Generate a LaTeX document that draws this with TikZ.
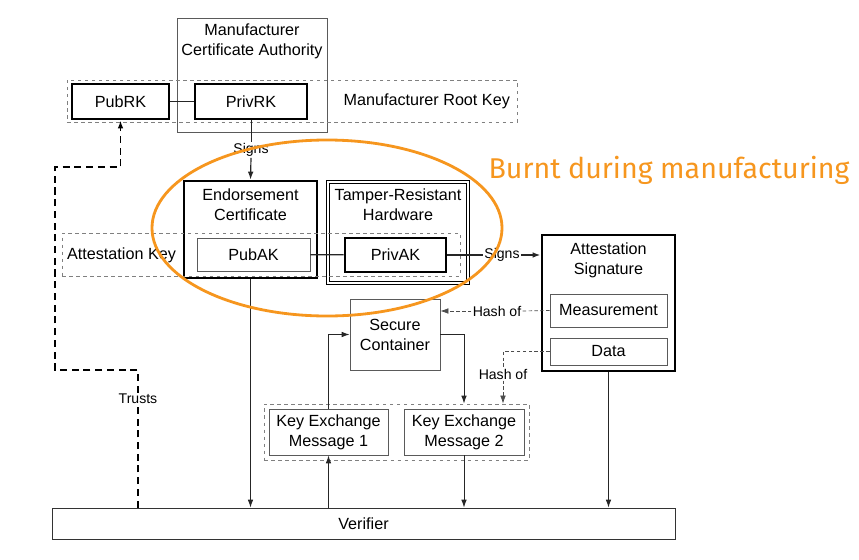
\documentclass[tikz,border=0pt]{standalone}
\usepackage{fontspec}
\setmainfont{Liberation Sans}
\newfontfamily\burntfont{Fira Sans}
\usetikzlibrary{arrows.meta,shapes.geometric}
\definecolor{burntorange}{RGB}{246,150,30}
\definecolor{boxgray}{RGB}{90,90,90}
\begin{document}
\begin{tikzpicture}[x=0.03cm, y=-0.03cm,
	font=\fontsize{13.8}{17}\selectfont,
	thinbox/.style={draw=boxgray, line width=0.7pt, inner sep=0pt, align=center},
	thickbox/.style={draw=black, line width=2.4pt, inner sep=0pt, align=center},
	groupbox/.style={draw=gray, dashed, line width=0.7pt, inner sep=0pt},
	conn/.style={draw=black!85, line width=0.8pt},
	hashline/.style={draw=black!70, line width=0.6pt, dash pattern=on 3pt off 2pt},
	trustline/.style={draw=black, line width=1.5pt, dash pattern=on 6pt off 4pt},
	tip/.style={-{Latex[length=2.4mm,width=1.7mm]}},
	lbl/.style={inner sep=1pt, font=\fontsize{12}{14}\selectfont}]
	%% Rahmen
	\useasboundingbox (0,0) rectangle (859,560);

	%% Manufacturer
	\node[thinbox, minimum width=4.5cm, minimum height=3.42cm] (mca) at (252,75) {};
	\node[anchor=north, align=center] (mcatext) at ([yshift=-2pt]mca.north) {Manufacturer\\Certificate Authority};
	\node[groupbox, minimum width=13.5cm, minimum height=1.26cm] (mrk) at (292,101) {};
	\node[anchor=east] (mrktext) at (514,101) {Manufacturer Root Key};
	\node[thickbox, fill=white, minimum width=2.91cm, minimum height=1.05cm] (pubrk) at (120.5,101.5) {PubRK};
	\node[thickbox, fill=white, minimum width=3.36cm, minimum height=1.05cm] (privrk) at (251,101.5) {PrivRK};

	%% Attestation Key
	\node[thickbox, minimum width=3.99cm, minimum height=2.91cm] (endorse) at (250.5,229.5) {};
	\node[anchor=north, align=center] (endorsetext) at ([yshift=-4pt]endorse.north) {Endorsement\\Certificate};
	\node[thinbox, draw=black, double, double distance=1.2pt, minimum width=4.2cm, minimum height=3.03cm] (trh) at (398,232.5) {};
	\node[anchor=north, align=center] (trhtext) at ([yshift=-3pt]trh.north) {Tamper-Resistant\\Hardware};
	\node[groupbox, minimum width=11.94cm, minimum height=1.29cm] (ak) at (261,254.5) {};
	\node[anchor=west] (aktext) at (63,255) {Attestation Key};
	\node[thinbox, minimum width=3.39cm, minimum height=0.99cm] (pubak) at (253.5,254.5) {PubAK};
	\node[thickbox, minimum width=3.03cm, minimum height=1.02cm] (privak) at (395.5,255) {PrivAK};

	%% Attestation Signature
	\node[thickbox, minimum width=3.99cm, minimum height=4.08cm] (attsig) at (608.5,303) {};
	\node[anchor=north, align=center] (attsigtext) at ([yshift=-4pt]attsig.north) {Attestation\\Signature};
	\node[thinbox, minimum width=3.51cm, minimum height=0.99cm] (meas) at (608.5,310.5) {Measurement};
	\node[thinbox, minimum width=3.51cm, minimum height=0.81cm] (data) at (608.5,351.5) {Data};

	%% Key Exchange
	\node[thinbox, minimum width=2.7cm, minimum height=2.13cm] (sc) at (395,334.5) {Secure\\Container};
	\node[groupbox, minimum width=7.95cm, minimum height=1.68cm] (kex) at (396.5,432) {};
	\node[thinbox, minimum width=3.57cm, minimum height=1.38cm] (kemone) at (328.5,432) {Key Exchange\\Message 1};
	\node[thinbox, minimum width=3.6cm, minimum height=1.38cm] (kemtwo) at (464,432) {Key Exchange\\Message 2};

	%% Verifier
	\node[thinbox, draw=black!80, minimum width=18.69cm, minimum height=0.93cm] (verifier) at (363.5,523.5) {Verifier};

	%%%%%%%%%%%%%%%%

	%% Verbindungen
	\node[lbl] (signsone) at (251,150) {Signs};
	\node[lbl] (signstwo) at (502,255) {Signs};
	\node[lbl] (hashone) at (497,311) {Hash of};
	\node[lbl] (hashtwo) at (503,374) {Hash of};
	\node[lbl] (trusts) at (138,399) {Trusts};
	\coordinate (tbendone) at (55,370);
	\coordinate (tbendtwo) at (120.5,167);

	\draw[conn] (pubrk) -- (privrk);
	\draw[conn] (privrk.south) -- (signsone.north);
	\draw[conn, tip, line width=1pt] (signsone.south) -- (endorse.north);
	\draw[conn, line width=1pt] (pubak) -- (privak);
	\draw[conn, line width=1pt] (privak.east) -- (signstwo.west);
	\draw[conn, tip, line width=1.5pt] (signstwo.east) -- (signstwo -| attsig.west);
	\draw[hashline] (meas.west) -- (hashone.east);
	\draw[hashline, tip] (hashone.west) -- (hashone -| sc.east);
	\draw[hashline] (data.west) -| (hashtwo.north);
	\draw[hashline, tip] (hashtwo.south) -- (hashtwo |- kex.north);
	\draw[conn, tip] (sc.east) -| (kemtwo.north |- kex.north);
	\draw[conn, tip] (kemone.north) |- (sc.west);
	\draw[conn, tip] (endorse.south) -- (endorse.south |- verifier.north);
	\draw[conn, tip] (kemtwo.south) -- (kemtwo.south |- verifier.north);
	\draw[conn, tip] (attsig.south) -- (attsig.south |- verifier.north);
	\draw[conn, tip] (kemone.south |- verifier.north) -- (kemone.south);
	\draw[trustline] (verifier.north -| trusts) -- (trusts.south);
	\draw[trustline, tip] (trusts.north) |- (tbendone) |- (tbendtwo) -- (pubrk.south);

	%% Burnt
	\node[draw=burntorange, line width=2.4pt, ellipse, minimum width=10.5cm, minimum height=5.28cm, inner sep=0pt] (burnt) at (327,228) {};
	\node[text=burntorange, font=\burntfont\fontsize{24.4}{28}\selectfont] (burnttext) at (669,170) {Burnt during manufacturing};

\end{tikzpicture}
\end{document}
